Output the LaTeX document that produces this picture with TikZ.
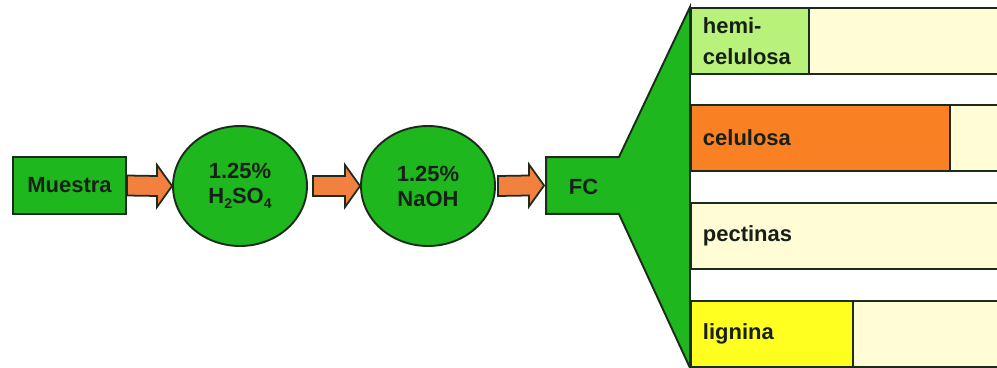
\documentclass[tikz,border=0pt]{standalone}
\usepackage{fontspec}
\setmainfont{Liberation Sans}
\usetikzlibrary{shapes.geometric,calc}
\definecolor{gr}{RGB}{30,184,30}
\definecolor{lgr}{RGB}{184,242,122}
\definecolor{org}{RGB}{250,128,36}
\definecolor{arr}{RGB}{242,128,62}
\definecolor{crm}{RGB}{255,252,214}
\definecolor{yel}{RGB}{255,255,32}
\definecolor{edge}{RGB}{28,44,28}
\definecolor{txt}{RGB}{22,32,22}
\newcommand{\lowsub}[1]{\raisebox{-0.45ex}{\fontsize{8}{8}\selectfont #1}}
\begin{document}
\begin{tikzpicture}[x=0.02cm,y=-0.02cm, line width=1.1pt,
  every node/.style={font=\fontsize{12.5}{15}\selectfont\bfseries, text=txt},
  greenbox/.style={draw=edge, fill=gr, rectangle, inner sep=0pt},
  reagent/.style={draw=edge, fill=gr, ellipse, minimum width=2.68cm, minimum height=2.4cm,
    inner sep=0pt, align=center, font=\fontsize{12.5}{14.2}\selectfont\bfseries},
  bar/.style={draw=edge, rectangle, inner sep=0pt, minimum height=1.32cm, anchor=north west},
  bartext/.style={anchor=west, align=left, inner sep=0pt, font=\fontsize{12.5}{17.5}\selectfont\bfseries},
  blockarrow/.style={draw=edge, fill=arr, line width=1pt, line join=miter}]
\clip (0,0) rectangle (997,368);
\fill[white] (0,0) rectangle (997,368);

% bars
\node[bar, fill=crm, minimum width=6.4cm] (b1) at (690,7) {};
\node[bar, fill=crm, minimum width=6.4cm] (b2) at (690,104) {};
\node[bar, fill=crm, minimum width=6.4cm] (b3) at (690,202) {};
\node[bar, fill=crm, minimum width=6.4cm] (b4) at (690,300) {};
\node[bar, fill=lgr, minimum width=2.36cm] (hemi) at (690,7) {};
\node[bar, fill=org, minimum width=5.18cm] (celu) at (690,104) {};
\node[bar, fill=yel, minimum width=3.24cm] (lign) at (690,300) {};
\node[bartext] (themi) at ($(hemi.west)+(12,0)$) {hemi-\\celulosa};
\node[bartext] (tcelu) at ($(celu.west)+(12,0)$) {celulosa};
\node[bartext] (tpect) at ($(b3.west)+(12,0)$) {pectinas};
\node[bartext] (tlign) at ($(lign.west)+(12,0)$) {lignina};

% flow
\node[greenbox, minimum width=2.26cm, minimum height=1.14cm] (m) at (69.5,185.5) {Muestra};
\node[reagent] (c1) at (240,186) {1.25\%\\H\lowsub{2}SO\lowsub{4}};
\node[reagent] (c2) at (428,186) {1.25\%\\NaOH};
\node[inner sep=0pt, minimum width=1.42cm, minimum height=1.1cm] (fc) at (582.5,185.5) {};
\draw[draw=edge, fill=gr, line join=miter] (fc.north west) -- (fc.north east) -- (b1.north west)
  -- (b4.south west) -- (fc.south east) -- (fc.south west) -- cycle;
\node (fclabel) at ($(fc.center)+(1,1.5)$) {FC};

\draw[blockarrow] ($(m.east)+(0,-10)$) -- ($(c1.west)+(-15,-10)$) -- ($(c1.west)+(-15,-21)$)
  -- (c1.west) -- ($(c1.west)+(-15,21)$) -- ($(c1.west)+(-15,10)$) -- ($(m.east)+(0,10)$) -- cycle;
\draw[blockarrow] ($(c1.east)+(5,-10)$) -- ($(c2.west)+(-15,-10)$) -- ($(c2.west)+(-15,-21)$)
  -- (c2.west) -- ($(c2.west)+(-15,21)$) -- ($(c2.west)+(-15,10)$) -- ($(c1.east)+(5,10)$) -- cycle;
\draw[blockarrow] ($(c2.east)+(2,-10)$) -- ($(fc.west)+(-17,-10)$) -- ($(fc.west)+(-17,-21)$)
  -- ($(fc.west)+(-2,0)$) -- ($(fc.west)+(-17,21)$) -- ($(fc.west)+(-17,10)$) -- ($(c2.east)+(2,10)$) -- cycle;
\end{tikzpicture}
\end{document}
